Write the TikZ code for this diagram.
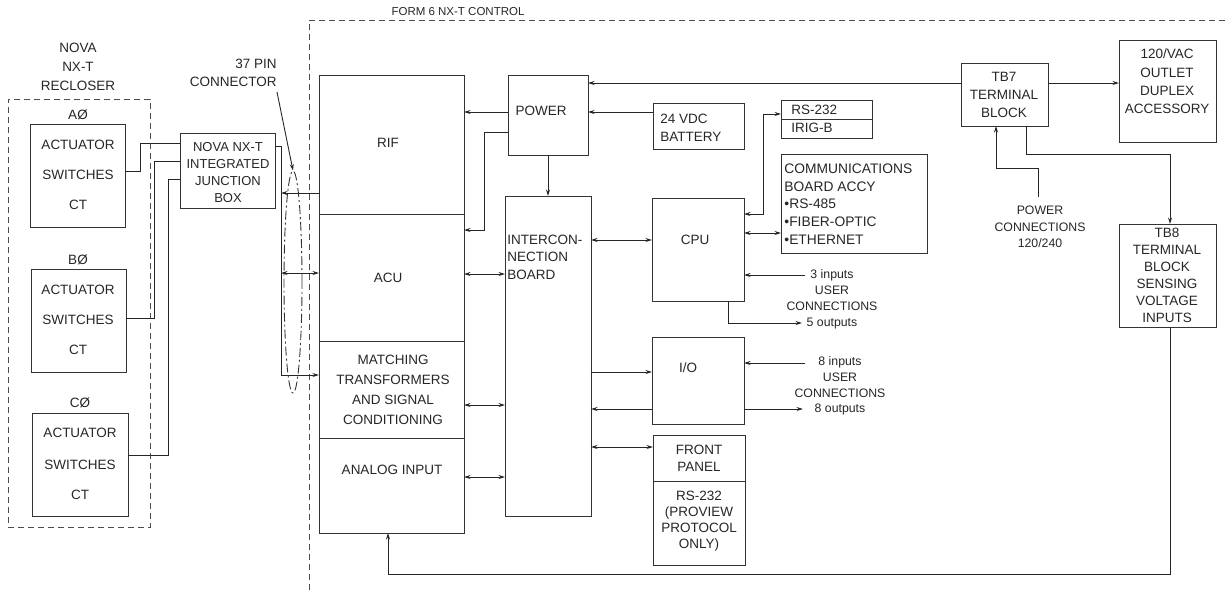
\documentclass[tikz,border=0pt]{standalone}
\usepackage{fontspec}
\setmainfont{Liberation Sans}
\usetikzlibrary{arrows.meta,calc,fit,shapes.geometric}
\begin{document}
\begin{tikzpicture}[x=1pt,y=-1pt,
  font=\fontsize{13.5}{17.5}\selectfont,
  line width=0.9pt, draw=black!85, text=black!85,
  box/.style={draw=black!80, line width=1pt, inner sep=0pt, outer sep=0pt},
  dashbox/.style={draw=black!70, line width=1pt, dash pattern=on 6pt off 4pt, inner sep=0pt, outer sep=0pt},
  txt/.style={inner sep=0pt, align=center},
  ltxt/.style={inner sep=0pt, align=left, anchor=west},
  small/.style={font=\fontsize{12.3}{16}\selectfont},
  wire/.style={draw=black!85, line width=0.9pt},
  arr/.style={wire, -{Stealth[length=6.5pt,width=4pt]}},
  darr/.style={wire, {Stealth[length=6.5pt,width=4pt]}-{Stealth[length=6.5pt,width=4pt]}}
]
\useasboundingbox (0,0) rectangle (1225,590);

% ---- frames ----
\draw[dashbox] (1225,20) -- (309,20) -- (309,590);
\node[txt, font=\fontsize{11.5}{14}\selectfont] (formlbl) at (458,12) {FORM 6 NX-T CONTROL};
\node[dashbox, fit={(8,99)(150,527)}] (nova) {};
\node[txt, font=\fontsize{13.5}{19}\selectfont] (novalbl) at (78,67) {NOVA\\NX-T\\RECLOSER};

% ---- phase boxes ----
\node[txt] (aphi) at (78,115) {AØ};
\node[box, fit={(30,124)(125,227)}] (boxA) {};
\node[txt] at (78,145) {ACTUATOR};
\node[txt] at (78,175) {SWITCHES};
\node[txt] at (78,205) {CT};

\node[txt] (bphi) at (78,260) {BØ};
\node[box, fit={(31,269)(126,372)}] (boxB) {};
\node[txt] at (78,290) {ACTUATOR};
\node[txt] at (78,320) {SWITCHES};
\node[txt] at (78,350) {CT};

\node[txt] (cphi) at (80,403) {CØ};
\node[box, fit={(32,413)(128,516)}] (boxC) {};
\node[txt] at (80,433) {ACTUATOR};
\node[txt] at (80,465) {SWITCHES};
\node[txt] at (80,495) {CT};

% ---- junction box ----
\node[box, fit={(180,133)(275,208)}] (jb) {};
\node[txt, font=\fontsize{13}{17}\selectfont] at (228,173) {NOVA NX-T\\INTEGRATED\\JUNCTION\\BOX};

\draw[wire] (boxA.east |- 0,171) -- (140,171) -- (140,143) -- (jb.west |- 0,143);
\draw[wire] (boxB.east |- 0,318) -- (154,318) -- (154,161) -- (jb.west |- 0,161);
\draw[wire] (boxC.east |- 0,455) -- (168,455) -- (168,179) -- (jb.west |- 0,179);

% ---- left column ----
\node[box, fit={(319,75)(464,214)}] (rif) {};
\node[box, fit={(319,214)(464,341)}] (acu) {};
\node[box, fit={(319,341)(464,438)}] (match) {};
\node[box, fit={(319,438)(464,533)}] (analog) {};
\node[txt] at (388,143) {RIF};
\node[txt] at (388,278) {ACU};
\node[txt, font=\fontsize{13.5}{20}\selectfont] at (393,390) {MATCHING\\TRANSFORMERS\\AND SIGNAL\\CONDITIONING};
\node[txt] at (392,470) {ANALOG INPUT};

% ---- connector bus ----
\coordinate (busTop) at (281,146);
\coordinate (busBot) at (281,375);
\draw[wire] (jb.east |- busTop) -- (busTop) -- (busBot);
\draw[arr] (busBot) -- (match.west |- busBot);
\draw[arr] (rif.west |- 0,193) -- (busTop |- 0,193);
\draw[darr] (busTop |- 0,273) -- (acu.west |- 0,273);
\node[draw=black!80, line width=0.9pt, dash pattern=on 9pt off 3pt on 2pt off 3pt, ellipse, inner sep=0pt, minimum width=18pt, minimum height=222pt] (conn) at (293,282) {};
\node[txt, align=right, anchor=south east] (pinlbl) at (277,87) {37 PIN\hspace{8pt}\\CONNECTOR};
\draw[arr] (277,92) -- (conn.north);

% ---- power / interconnection ----
\node[box, fit={(508,75)(588,155)}] (power) {};
\node[txt] at (541,111) {POWER};
\node[box, fit={(505,196)(591,516)}] (inter) {};
\node[ltxt] at (507,257) {INTERCON-\\NECTION\\BOARD};

\draw[arr] (power.west |- 0,112) -- (rif.east |- 0,112);
\draw[arr] (power.west |- 0,132) -- (484,132) -- (484,230) -- (acu.east |- 0,230);
\draw[arr] (power.south) -- (inter.north);
\draw[darr] (acu.east |- 0,274) -- (inter.west |- 0,274);
\draw[darr] (match.east |- 0,405) -- (inter.west |- 0,405);
\draw[darr] (analog.east |- 0,477) -- (inter.west |- 0,477);

% ---- battery, cpu, comms ----
\node[box, fit={(653,103)(744,149)}] (batt) {};
\node[ltxt] at (660,128) {24 VDC\\BATTERY};
\draw[arr] (batt.west |- 0,112) -- (power.east |- 0,112);

\node[box, fit={(781,100)(872,119)}] (rs) {};
\node[box, fit={(781,119)(872,138)}] (irig) {};
\node[ltxt] at (791,110) {RS-232};
\node[ltxt] at (791,128) {IRIG-B};

\node[box, fit={(781,154)(927,253)}] (comm) {};
\node[ltxt, font=\fontsize{13.8}{17.8}\selectfont] at (784,204) {COMMUNICATIONS\\BOARD ACCY\\•RS-485\\•FIBER-OPTIC\\•ETHERNET};

\node[box, fit={(652,198)(744,301)}] (cpu) {};
\node[txt] at (695,240) {CPU};
\draw[darr] (inter.east |- 0,240) -- (cpu.west |- 0,240);
\draw[darr] (cpu.east |- 0,214) -- (763,214) -- (763,114) -- (rs.west |- 0,114);
\draw[darr] (cpu.east |- 0,233) -- (comm.west |- 0,233);

\node[txt, small] (ucpu) at (832,299) {3 inputs\\USER\\CONNECTIONS\\5 outputs};
\coordinate (cpuin) at (805,275);
\coordinate (cpuout) at (802,323);
\draw[arr] (cpuin) -- (cpu.east |- cpuin);
\draw[arr] (cpu.south -| 728,0) -- (728,323) -- (cpuout);

% ---- I/O ----
\node[box, fit={(652,337)(744,424)}] (io) {};
\node[txt] at (688,368) {I/O};
\draw[arr] (inter.east |- 0,372) -- (io.west |- 0,372);
\draw[arr] (io.west |- 0,409) -- (inter.east |- 0,409);
\node[txt, small, font=\fontsize{12.3}{15.7}\selectfont] (uio) at (840,386) {8 inputs\\USER\\CONNECTIONS\\8 outputs};
\coordinate (ioin) at (805,363);
\coordinate (ioout) at (803,409);
\draw[arr] (ioin) -- (io.east |- ioin);
\draw[arr] (io.east |- ioout) -- (ioout);

% ---- front panel ----
\node[box, fit={(653,435)(745,481)}] (front) {};
\node[box, fit={(653,481)(745,565)}] (rsb) {};
\node[txt, font=\fontsize{13.5}{17}\selectfont] at (699,458) {FRONT\\PANEL};
\node[txt, font=\fontsize{13.5}{16}\selectfont] at (699,521) {RS-232\\(PROVIEW\\PROTOCOL\\ONLY)};
\draw[darr] (inter.east |- 0,447) -- (front.west |- 0,447);

% ---- TB7 / 120VAC / TB8 ----
\node[box, fit={(961,63)(1048,126)}] (tb7) {};
\node[txt, font=\fontsize{13.5}{18}\selectfont] at (1004,95) {TB7\\TERMINAL\\BLOCK};
\node[box, fit={(1119,40)(1216,142)}] (vac) {};
\node[txt, font=\fontsize{13.5}{18.3}\selectfont] at (1167,81.5) {120/VAC\\OUTLET\\DUPLEX\\ACCESSORY};
\draw[arr] (tb7.west |- 0,83) -- (power.east |- 0,83);
\draw[arr] (tb7.east |- 0,83) -- (vac.west |- 0,83);

\node[txt, font=\fontsize{12.3}{16.5}\selectfont] (pwrc) at (1040,227) {POWER\\CONNECTIONS\\120/240};
\draw[arr] (1038,197) -- (1038,168) -- (996,168) -- (tb7.south -| 996,0);

\node[box, fit={(1119,224)(1216,327)}] (tb8) {};
\node[txt, font=\fontsize{13.5}{17}\selectfont] at (1167,275.5) {TB8\\TERMINAL\\BLOCK\\SENSING\\VOLTAGE\\INPUTS};
\draw[arr] (tb7.south -| 1026,0) -- (1026,154) -- (1170,154) -- (tb8.north -| 1170,0);
\draw[arr] (tb8.south -| 1170,0) -- (1170,574) -- (388,574) -- (analog.south -| 388,0);
\end{tikzpicture}
\end{document}
